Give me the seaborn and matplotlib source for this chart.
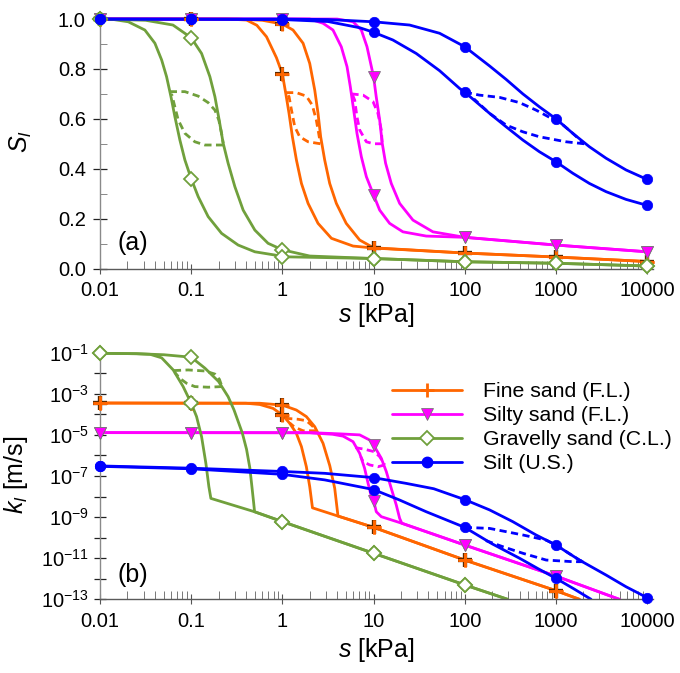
import numpy as np
import matplotlib
matplotlib.use("Agg")
import matplotlib.pyplot as plt
import matplotlib.ticker as mticker
from matplotlib.lines import Line2D
import seaborn as sns

# ---------------- data (log10 of suction s [kPa]; S_l ; log10 of k_l [m/s]) ----------------
decades_logs = [-2, -1, 0, 1, 2, 3, 4]
legend_labels = ["Fine sand (F.L.)", "Silty sand (F.L.)", "Gravelly sand (C.L.)", "Silt (U.S.)"]

# ---- panel (a): degree of saturation ----
fine_a_dry_logs = [-2.0, -0.5, -0.22, 0.0, 0.117, 0.227, 0.30, 0.355, 0.391, 0.42, 0.464, 0.519, 0.592, 0.70, 0.848, 1.0, 2.0, 3.0, 4.0]
fine_a_dry_S = [1.0, 1.0, 0.995, 0.98, 0.956, 0.903, 0.822, 0.715, 0.622, 0.528, 0.435, 0.341, 0.261, 0.181, 0.114, 0.083, 0.062, 0.046, 0.028]
fine_a_wet_logs = [-2.0, -0.6, -0.393, -0.28, -0.174, -0.065, 0.0, 0.037, 0.073, 0.11, 0.154, 0.209, 0.282, 0.391, 0.538, 0.775, 1.0, 2.0, 3.0, 4.0]
fine_a_wet_S = [1.0, 1.0, 0.996, 0.975, 0.929, 0.845, 0.78, 0.702, 0.622, 0.528, 0.435, 0.341, 0.261, 0.181, 0.121, 0.090, 0.082, 0.062, 0.046, 0.028]
fine_a_scd_logs = [0.04, 0.153, 0.263, 0.328, 0.372, 0.398, 0.416]
fine_a_scd_S = [0.705, 0.705, 0.691, 0.655, 0.595, 0.542, 0.502]
fine_a_scw_logs = [0.416, 0.282, 0.19, 0.136, 0.10, 0.073, 0.045]
fine_a_scw_S = [0.50, 0.508, 0.528, 0.568, 0.635, 0.689, 0.703]
fine_a_mark_dry = [1.0, 1.0, 0.98, 0.083, 0.062, 0.046, 0.028]
fine_a_mark_wet = [1.0, 1.0, 0.78, 0.082, 0.062, 0.046, 0.028]

silty_a_dry_logs = [-2.0, 0.6, 0.775, 0.866, 0.928, 0.976, 1.0, 1.029, 1.067, 1.095, 1.132, 1.194, 1.286, 1.432, 1.651, 2.0, 3.0, 4.0]
silty_a_dry_S = [1.0, 1.0, 0.989, 0.956, 0.889, 0.809, 0.769, 0.689, 0.595, 0.502, 0.422, 0.341, 0.261, 0.194, 0.147, 0.125, 0.094, 0.067]
silty_a_wet_logs = [-2.0, 0.3, 0.446, 0.555, 0.646, 0.709, 0.745, 0.782, 0.818, 0.866, 0.921, 1.0, 1.067, 1.176, 1.322, 1.578, 2.0, 3.0, 4.0]
silty_a_wet_S = [1.0, 1.0, 0.983, 0.956, 0.889, 0.809, 0.729, 0.635, 0.542, 0.448, 0.368, 0.295, 0.234, 0.181, 0.147, 0.130, 0.125, 0.094, 0.067]
silty_a_scd_logs = [0.757, 0.885, 0.994, 1.048, 1.085, 1.095]
silty_a_scd_S = [0.70, 0.695, 0.669, 0.622, 0.555, 0.50]
silty_a_scw_logs = [1.095, 1.0, 0.921, 0.848, 0.818, 0.793, 0.765]
silty_a_scw_S = [0.50, 0.50, 0.508, 0.555, 0.608, 0.675, 0.70]
silty_a_mark_dry = [1.0, 1.0, 1.0, 0.769, 0.125, 0.094, 0.067]
silty_a_mark_wet = [1.0, 1.0, 1.0, 0.295, 0.125, 0.094, 0.067]

gravel_a_dry_logs = [-2.0, -1.5, -1.2, -1.0, -0.886, -0.795, -0.74, -0.693, -0.649, -0.595, -0.521, -0.43, -0.302, -0.157, 0.0, 0.3, 1.0, 2.0, 3.0, 4.0]
gravel_a_dry_S = [1.0, 0.995, 0.976, 0.925, 0.862, 0.769, 0.689, 0.595, 0.502, 0.422, 0.328, 0.234, 0.154, 0.101, 0.075, 0.05, 0.04, 0.027, 0.021, 0.01]
gravel_a_wet_logs = [-2.0, -1.85, -1.69, -1.508, -1.398, -1.324, -1.27, -1.222, -1.179, -1.124, -1.069, -1.0, -0.923, -0.814, -0.667, -0.485, -0.302, -0.083, 0.0, 0.3, 1.0, 2.0, 3.0, 4.0]
gravel_a_wet_S = [1.0, 0.998, 0.989, 0.956, 0.903, 0.836, 0.769, 0.689, 0.609, 0.515, 0.435, 0.36, 0.288, 0.208, 0.141, 0.094, 0.067, 0.054, 0.047, 0.045, 0.04, 0.027, 0.021, 0.01]
gravel_a_scd_logs = [-1.235, -1.069, -0.923, -0.814, -0.74, -0.697, -0.667, -0.649]
gravel_a_scd_S = [0.709, 0.709, 0.691, 0.665, 0.635, 0.595, 0.542, 0.502]
gravel_a_scw_logs = [-0.649, -0.85, -0.96, -1.069, -1.142, -1.179, -1.215]
gravel_a_scw_S = [0.495, 0.495, 0.508, 0.542, 0.595, 0.648, 0.700]
gravel_a_mark_dry = [1.0, 0.925, 0.075, 0.04, 0.027, 0.021, 0.01]
gravel_a_mark_wet = [1.0, 0.36, 0.047, 0.04, 0.027, 0.021, 0.01]

silt_a_dry_logs = [-2.0, 0.0, 0.5, 1.0, 1.395, 1.724, 2.0, 2.272, 2.454, 2.637, 2.819, 3.0, 3.184, 3.367, 3.55, 3.769, 4.0]
silt_a_dry_S = [1.0, 1.0, 0.998, 0.989, 0.976, 0.943, 0.889, 0.812, 0.758, 0.70, 0.648, 0.600, 0.542, 0.488, 0.442, 0.395, 0.357]
silt_a_wet_logs = [-2.0, 0.0, 0.5, 0.85, 1.0, 1.212, 1.468, 1.724, 1.943, 2.0, 2.272, 2.454, 2.637, 2.819, 3.0, 3.184, 3.367, 3.55, 3.769, 4.0]
silt_a_wet_S = [1.0, 0.998, 0.99, 0.965, 0.947, 0.916, 0.862, 0.793, 0.722, 0.707, 0.622, 0.568, 0.515, 0.468, 0.428, 0.382, 0.341, 0.308, 0.277, 0.253]
silt_a_scd_logs = [2.0, 2.162, 2.381, 2.60, 2.782, 2.929, 3.0, 3.184, 3.31]
silt_a_scd_S = [0.707, 0.695, 0.686, 0.665, 0.635, 0.606, 0.600, 0.542, 0.50]
silt_a_scw_logs = [3.31, 3.11, 2.819, 2.637, 2.454, 2.272, 2.1]
silt_a_scw_S = [0.50, 0.508, 0.528, 0.548, 0.575, 0.622, 0.68]
silt_a_mark_dry = [1.0, 1.0, 1.0, 0.989, 0.889, 0.600, 0.357]
silt_a_mark_wet = [1.0, 1.0, 0.998, 0.947, 0.707, 0.428, 0.253]

# ---- panel (b): hydraulic conductivity (log10 k) ----
fine_b_dry_logs = [-2.0, -0.25, 0.0, 0.153, 0.263, 0.355, 0.446, 0.52, 0.574, 0.61, 1.0, 2.0, 3.0, 3.257]
fine_b_dry_logk = [-3.45, -3.46, -3.55, -3.79, -4.11, -4.6, -5.41, -6.5, -7.6, -8.95, -9.5, -11.09, -12.58, -13.0]
fine_b_wet_logs = [-2.0, -0.4, -0.248, -0.102, 0.0, 0.081, 0.153, 0.209, 0.263, 0.30, 0.33, 0.61, 1.0, 2.0, 3.0, 3.257]
fine_b_wet_logk = [-3.45, -3.46, -3.52, -3.71, -4.03, -4.44, -4.92, -5.57, -6.55, -7.52, -8.55, -8.95, -9.5, -11.09, -12.58, -13.0]
fine_b_scd_logs = [0.03, 0.172, 0.263, 0.318, 0.355, 0.372]
fine_b_scd_logk = [-4.19, -4.24, -4.31, -4.52, -4.68, -4.78]
fine_b_scw_logs = [0.372, 0.227, 0.136, 0.08]
fine_b_scw_logk = [-4.80, -4.80, -4.63, -4.42]
fine_b_mark_dry = [-3.45, -3.45, -3.55, -9.5, -11.09, -12.58]
fine_b_mark_wet = [-3.45, -3.45, -4.03, -9.5, -11.09, -12.58]

silty_b_dry_logs = [-2.0, 0.3, 0.629, 0.848, 0.957, 1.0, 1.085, 1.14, 1.194, 1.249, 1.286, 1.31, 2.0, 3.0, 3.695]
silty_b_dry_logk = [-4.89, -4.89, -4.95, -5.0, -5.25, -5.49, -6.14, -6.79, -7.6, -8.41, -9.06, -9.3, -10.36, -11.87, -13.0]
silty_b_wet_logs = [-2.0, 0.3, 0.55, 0.665, 0.775, 0.848, 0.902, 0.94, 0.976, 1.0, 1.03, 1.085, 1.31, 2.0, 3.0, 3.695]
silty_b_wet_logk = [-4.89, -4.90, -4.97, -5.06, -5.33, -5.90, -6.63, -7.36, -8.01, -8.2, -8.74, -8.98, -9.3, -10.36, -11.87, -13.0]
silty_b_scd_logs = [0.80, 0.903, 1.01, 1.067, 1.10, 1.122]
silty_b_scd_logk = [-5.62, -5.70, -5.82, -6.06, -6.3, -6.46]
silty_b_scw_logs = [1.122, 1.048, 0.957, 0.885, 0.86]
silty_b_scw_logk = [-6.46, -6.55, -6.46, -6.30, -6.06]
silty_b_mark_dry = [-4.89, -4.89, -4.89, -5.49, -10.36, -11.87]
silty_b_mark_wet = [-4.89, -4.89, -4.89, -8.2, -10.36, -11.87]

gravel_b_dry_logs = [-2.0, -1.6, -1.3, -1.0, -0.85, -0.7, -0.595, -0.53, -0.44, -0.393, -0.357, -0.332, -0.315, -0.305, 0.0, 1.0, 2.0, 2.47]
gravel_b_dry_logk = [-1.03, -1.05, -1.10, -1.22, -1.75, -2.4, -3.14, -3.79, -4.9, -5.7, -6.6, -7.6, -8.3, -8.74, -9.22, -10.76, -12.3, -13.0]
gravel_b_wet_logs = [-2.0, -1.6, -1.45, -1.324, -1.197, -1.088, -1.0, -0.941, -0.886, -0.839, -0.806, -0.784, -0.305, 0.0, 1.0, 2.0, 2.47]
gravel_b_wet_logk = [-1.03, -1.05, -1.08, -1.25, -1.84, -2.65, -3.46, -4.11, -5.09, -6.38, -7.52, -8.09, -8.74, -9.22, -10.76, -12.3, -13.0]
gravel_b_scd_logs = [-1.19, -1.033, -0.85, -0.74, -0.69, -0.665]
gravel_b_scd_logk = [-1.87, -1.84, -1.89, -2.04, -2.30, -2.62]
gravel_b_scw_logs = [-0.665, -0.814, -0.96, -1.05, -1.124, -1.18]
gravel_b_scw_logk = [-2.65, -2.68, -2.65, -2.49, -2.25, -1.96]
gravel_b_mark_dry = [-1.03, -1.22, -9.22, -10.76, -12.3]
gravel_b_mark_wet = [-1.03, -3.46, -9.22, -10.76, -12.3]

silt_b_dry_logs = [-2.0, -1.0, 0.0, 0.464, 1.0, 1.358, 1.66, 2.0, 2.272, 2.526, 2.782, 3.0, 3.257, 3.55, 3.769, 4.0]
silt_b_dry_logk = [-6.51, -6.62, -6.78, -6.87, -7.08, -7.36, -7.62, -8.15, -8.65, -9.22, -9.87, -10.36, -11.09, -11.82, -12.39, -12.92]
silt_b_wet_logs = [-2.0, -1.0, 0.0, 0.464, 1.0, 1.286, 1.578, 2.0, 2.3, 2.6, 2.8, 3.0, 3.2, 3.385]
silt_b_wet_logk = [-6.53, -6.65, -6.92, -7.19, -7.66, -8.17, -8.74, -9.5, -10.3, -11.0, -11.5, -11.98, -12.5, -13.0]
silt_b_scd_logs = [2.0, 2.272, 2.637, 2.893, 3.0, 3.257, 3.30]
silt_b_scd_logk = [-9.5, -9.55, -9.87, -10.12, -10.36, -11.09, -11.17]
silt_b_scw_logs = [3.30, 3.184, 2.893, 2.637, 2.417, 2.217]
silt_b_scw_logk = [-11.17, -11.17, -11.09, -10.76, -10.44, -10.12]
silt_b_mark_dry = [-6.51, -6.62, -6.78, -7.08, -8.15, -10.36, -12.92]
silt_b_mark_wet = [-6.53, -6.65, -6.92, -7.66, -9.5, -11.98]

# ---------------- style ----------------
sns.set_theme(style="ticks")
plt.rcParams["font.family"] = ["Liberation Sans", "DejaVu Sans"]
plt.rcParams["mathtext.fontset"] = "custom"
plt.rcParams["mathtext.rm"] = "Liberation Sans"
plt.rcParams["mathtext.it"] = "Liberation Sans:italic"
plt.rcParams["mathtext.bf"] = "Liberation Sans:bold"
plt.rcParams["mathtext.sf"] = "Liberation Sans"
plt.rcParams["text.color"] = "black"
plt.rcParams["axes.labelcolor"] = "black"
plt.rcParams["xtick.labelcolor"] = "black"
plt.rcParams["ytick.labelcolor"] = "black"

C_FINE = "#FF6600"
C_SILTY = "#FF00FF"
C_GRAVEL = "#70A03C"
C_SILT = "#0000FF"

MK = {
    "fine": dict(marker="+", ms=10, mew=2.0, color=C_FINE, mec=C_FINE),
    "silty": dict(marker="v", ms=8, mew=0.6, color=C_SILTY, mfc=C_SILTY, mec="#777777"),
    "gravel": dict(marker="D", ms=7, mew=1.3, color=C_GRAVEL, mfc="white", mec=C_GRAVEL),
    "silt": dict(marker="o", ms=7.5, mew=0.5, color=C_SILT, mfc=C_SILT, mec=C_SILT),
}

LW = 2.0
DASH = (0, (2.6, 1.6))

fig = plt.figure(figsize=(6.8, 6.73), dpi=100)
W, H = 680.0, 673.0
x0, x1 = 100.0, 653.0
axa = fig.add_axes([x0 / W, 1 - 268.5 / H, (x1 - x0) / W, (268.5 - 15.3) / H])
axb = fig.add_axes([x0 / W, 1 - 599.3 / H, (x1 - x0) / W, (599.3 - 349.6) / H])

for ax in (axa, axb):
    ax.set_xscale("log")
axb.set_yscale("log")


def draw_line(ax, logs, yv, color, ls="-", logy=False):
    xs = 10.0 ** np.asarray(logs, dtype=float)
    ys = 10.0 ** np.asarray(yv, dtype=float) if logy else np.asarray(yv, dtype=float)
    sns.lineplot(x=xs, y=ys, ax=ax, color=color, lw=LW, linestyle=ls,
                 sort=False, estimator=None, legend=False)


def draw_marks(ax, logs, yv, key, logy=False):
    xs = 10.0 ** np.asarray(logs[:len(yv)], dtype=float)
    ys = 10.0 ** np.asarray(yv, dtype=float) if logy else np.asarray(yv, dtype=float)
    kw = dict(MK[key])
    if key == "fine":
        ax.plot(xs, ys, linestyle="none", marker="+", ms=10.5, mew=3.0, color="#5a2a00",
                clip_on=False, zorder=4)
    ax.plot(xs, ys, linestyle="none", clip_on=False, zorder=5, **kw)


soils_a = [
    ("fine", C_FINE, fine_a_dry_logs, fine_a_dry_S, fine_a_wet_logs, fine_a_wet_S,
     fine_a_scd_logs, fine_a_scd_S, fine_a_scw_logs, fine_a_scw_S, fine_a_mark_dry, fine_a_mark_wet),
    ("silty", C_SILTY, silty_a_dry_logs, silty_a_dry_S, silty_a_wet_logs, silty_a_wet_S,
     silty_a_scd_logs, silty_a_scd_S, silty_a_scw_logs, silty_a_scw_S, silty_a_mark_dry, silty_a_mark_wet),
    ("gravel", C_GRAVEL, gravel_a_dry_logs, gravel_a_dry_S, gravel_a_wet_logs, gravel_a_wet_S,
     gravel_a_scd_logs, gravel_a_scd_S, gravel_a_scw_logs, gravel_a_scw_S, gravel_a_mark_dry, gravel_a_mark_wet),
    ("silt", C_SILT, silt_a_dry_logs, silt_a_dry_S, silt_a_wet_logs, silt_a_wet_S,
     silt_a_scd_logs, silt_a_scd_S, silt_a_scw_logs, silt_a_scw_S, silt_a_mark_dry, silt_a_mark_wet),
]
soils_b = [
    ("fine", C_FINE, fine_b_dry_logs, fine_b_dry_logk, fine_b_wet_logs, fine_b_wet_logk,
     fine_b_scd_logs, fine_b_scd_logk, fine_b_scw_logs, fine_b_scw_logk, fine_b_mark_dry, fine_b_mark_wet),
    ("silty", C_SILTY, silty_b_dry_logs, silty_b_dry_logk, silty_b_wet_logs, silty_b_wet_logk,
     silty_b_scd_logs, silty_b_scd_logk, silty_b_scw_logs, silty_b_scw_logk, silty_b_mark_dry, silty_b_mark_wet),
    ("gravel", C_GRAVEL, gravel_b_dry_logs, gravel_b_dry_logk, gravel_b_wet_logs, gravel_b_wet_logk,
     gravel_b_scd_logs, gravel_b_scd_logk, gravel_b_scw_logs, gravel_b_scw_logk, gravel_b_mark_dry, gravel_b_mark_wet),
    ("silt", C_SILT, silt_b_dry_logs, silt_b_dry_logk, silt_b_wet_logs, silt_b_wet_logk,
     silt_b_scd_logs, silt_b_scd_logk, silt_b_scw_logs, silt_b_scw_logk, silt_b_mark_dry, silt_b_mark_wet),
]

for ax, soils, logy in ((axa, soils_a, False), (axb, soils_b, True)):
    for (key, col, dl, dy, wl, wy, sdl, sdy, swl, swy, mdry, mwet) in soils:
        draw_line(ax, dl, dy, col, "-", logy)
        draw_line(ax, wl, wy, col, "-", logy)
        draw_line(ax, sdl, sdy, col, DASH, logy)
        draw_line(ax, swl, swy, col, DASH, logy)
    for (key, col, dl, dy, wl, wy, sdl, sdy, swl, swy, mdry, mwet) in soils:
        draw_marks(ax, decades_logs, mdry, key, logy)
        draw_marks(ax, decades_logs, mwet, key, logy)

# ---------------- axes cosmetics ----------------
xt = [0.01, 0.1, 1, 10, 100, 1000, 10000]
xtl = ["0.01", "0.1", "1", "10", "100", "1000", "10000"]
for ax in (axa, axb):
    ax.set_xlim(0.01, 1.16e4)
    ax.xaxis.set_major_locator(mticker.FixedLocator(xt))
    ax.xaxis.set_major_formatter(mticker.FixedFormatter(xtl))
    ax.xaxis.set_minor_locator(mticker.LogLocator(base=10, subs=np.arange(2, 10), numticks=20))
    ax.xaxis.set_minor_formatter(mticker.NullFormatter())
    for sp in ("top", "right"):
        ax.spines[sp].set_visible(False)
    ax.spines["left"].set_color("#8a8a8a")
    ax.spines["bottom"].set_color("#5a5a5a")
    ax.spines["left"].set_linewidth(1.0)
    ax.spines["bottom"].set_linewidth(1.0)
    ax.tick_params(axis="x", which="major", direction="inout", length=7.7, width=0.8,
                   color="#555555", labelsize=14.5, pad=5.5, labelcolor="black")
    ax.tick_params(axis="x", which="minor", direction="in", length=6.0, width=0.7,
                   color="#777777")
    ax.set_facecolor("none")

axa.set_ylim(0, 1.015)
axa.yaxis.set_major_locator(mticker.FixedLocator([0, 0.2, 0.4, 0.6, 0.8, 1.0]))
axa.yaxis.set_major_formatter(mticker.FormatStrFormatter("%.1f"))
axa.yaxis.set_minor_locator(mticker.FixedLocator([0.1, 0.3, 0.5, 0.7, 0.9]))
axa.tick_params(axis="y", which="major", direction="inout", length=9.5, width=0.9,
                color="#222222", labelsize=14.5, pad=5.5, labelcolor="black")
axa.tick_params(axis="y", which="minor", direction="in", length=5.2, width=0.7,
                color="#888888")

axb.set_ylim(1e-13, 10 ** -0.85)
yexp = list(range(-13, 0))
axb.yaxis.set_major_locator(mticker.FixedLocator([10.0 ** e for e in yexp]))
axb.yaxis.set_major_formatter(mticker.FixedFormatter(
    [(r"$\mathregular{10^{%d}}$" % e) if e % 2 != 0 else "" for e in yexp]))
axb.yaxis.set_minor_locator(mticker.NullLocator())
axb.tick_params(axis="y", which="major", direction="inout", length=8.9, width=0.9,
                color="#222222", labelsize=14.5, pad=3.5, labelcolor="black")

axa.set_xlabel(r"$s$ [kPa]", fontsize=18)
axb.set_xlabel(r"$s$ [kPa]", fontsize=18)
axa.xaxis.set_label_coords(0.5, -0.13)
axb.xaxis.set_label_coords(0.5, -0.145)
axa.set_ylabel(r"$S_l$", fontsize=18)
axb.set_ylabel(r"$k_l$ [m/s]", fontsize=18)
axa.yaxis.set_label_coords(-0.12, 0.5)
axb.yaxis.set_label_coords(-0.127, 0.5)

axa.text(0.032, 0.055, "(a)", transform=axa.transAxes, fontsize=18, va="bottom", ha="left")
axb.text(0.032, 0.048, "(b)", transform=axb.transAxes, fontsize=18, va="bottom", ha="left")

# ---------------- legend ----------------
handles = [
    Line2D([], [], color=C_FINE, lw=LW, marker="+", ms=10, mew=2.0),
    Line2D([], [], color=C_SILTY, lw=LW, marker="v", ms=8, mfc=C_SILTY, mec="#777777", mew=0.6),
    Line2D([], [], color=C_GRAVEL, lw=LW, marker="D", ms=7, mfc="white", mec=C_GRAVEL, mew=1.3),
    Line2D([], [], color=C_SILT, lw=LW, marker="o", ms=7.5, mfc=C_SILT, mec=C_SILT),
]
fig.legend(handles, legend_labels, loc="upper left",
           bbox_to_anchor=(392 / W, 1 - 382 / H), bbox_transform=fig.transFigure,
           frameon=False, fontsize=15.3, handlelength=3.3, handletextpad=1.0,
           labelspacing=0.24, borderpad=0.0, borderaxespad=0.0, numpoints=1)

fig.savefig("out.png", dpi=100)
